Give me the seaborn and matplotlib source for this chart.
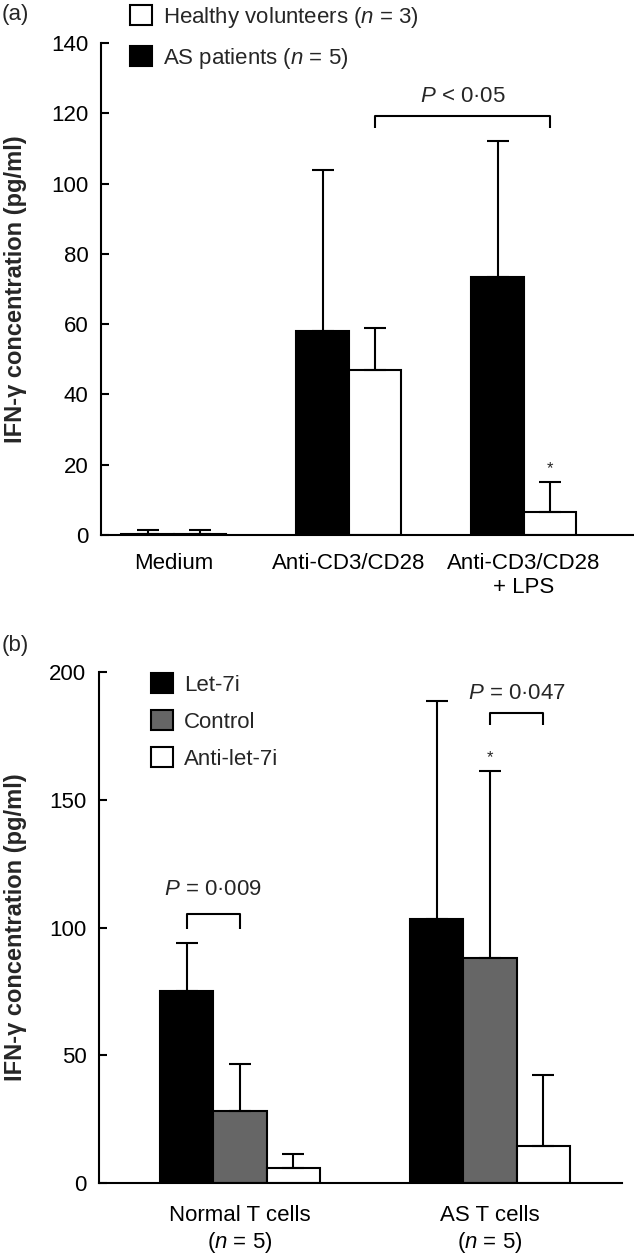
import numpy as np
import pandas as pd
import seaborn as sns
import matplotlib
matplotlib.use("Agg")
import matplotlib.pyplot as plt
from matplotlib.patches import Patch

# ---------------- data ----------------
cond_a = ["Medium", "Anti-CD3/CD28", "Anti-CD3/CD28\n+ LPS"]
groups_a = ["AS patients", "Healthy volunteers"]
legend_labels_a = ["Healthy volunteers ($n$ = 3)", "AS patients ($n$ = 5)"]
as_mean = [0.4, 58.0, 73.5]
as_sd = [0.9, 46.0, 38.5]
hv_mean = [0.4, 47.0, 6.5]
hv_sd = [0.9, 12.0, 8.5]
yticks_a = [0, 20, 40, 60, 80, 100, 120, 140]

cells_b = ["Normal T cells\n($n$ = 5)", "AS T cells\n($n$ = 5)"]
treat_b = ["Let-7i", "Control", "Anti-let-7i"]
let7i_mean = [75.3, 103.3]
let7i_sd = [18.7, 85.5]
control_mean = [28.2, 88.2]
control_sd = [18.2, 73.2]
anti_mean = [6.0, 14.5]
anti_sd = [5.3, 27.8]
yticks_b = [0, 50, 100, 150, 200]

ylabel = "IFN-\u03b3 concentration (pg/ml)"

# ---------------- style ----------------
sns.set_theme(style="white")
plt.rcParams["font.family"] = ["Liberation Sans", "DejaVu Sans"]
plt.rcParams["mathtext.fontset"] = "custom"
plt.rcParams["mathtext.it"] = "Liberation Sans:italic"
plt.rcParams["mathtext.rm"] = "Liberation Sans"
plt.rcParams["mathtext.bf"] = "Liberation Sans:bold"

FS = 16
LW = 1.5
colors_a = {"AS patients": "black", "Healthy volunteers": "white"}
colors_b = {"Let-7i": "black", "Control": "#666666", "Anti-let-7i": "white"}

W, H = 634, 1256
fig = plt.figure(figsize=(W / 100, H / 100), dpi=100)


def rect(l, r, t, b):
    return [l / W, 1 - b / H, (r - l) / W, (b - t) / H]


ax_a = fig.add_axes(rect(101, 634, 43, 535))
ax_b = fig.add_axes(rect(99, 622, 672, 1183))

df_a = pd.DataFrame({
    "cond": cond_a * 2,
    "group": [groups_a[0]] * 3 + [groups_a[1]] * 3,
    "mean": as_mean + hv_mean,
    "sd": as_sd + hv_sd,
})
df_b = pd.DataFrame({
    "cell": cells_b * 3,
    "treat": [treat_b[0]] * 2 + [treat_b[1]] * 2 + [treat_b[2]] * 2,
    "mean": let7i_mean + control_mean + anti_mean,
    "sd": let7i_sd + control_sd + anti_sd,
})


def draw(ax, df, x, hue, order, hue_order, palette, width):
    sns.barplot(data=df, x=x, y="mean", hue=hue, order=order, hue_order=hue_order,
                palette=palette, errorbar=None, width=width, edgecolor="black",
                linewidth=LW, legend=False, saturation=1, ax=ax)
    centers = {}
    for cont, h in zip(ax.containers, hue_order):
        sub = df[df[hue] == h].set_index(x)
        for bar, cat in zip(cont, order):
            cx = bar.get_x() + bar.get_width() / 2
            top = bar.get_height()
            sd = sub.loc[cat, "sd"]
            ax.errorbar(cx, top, yerr=[[0], [sd]], fmt="none", ecolor="black",
                        elinewidth=LW, capsize=8, capthick=LW, zorder=1)
            centers[(cat, h)] = (cx, top + sd)
    return centers


cen_a = draw(ax_a, df_a, "cond", "group", cond_a, groups_a, colors_a, 0.6)
cen_b = draw(ax_b, df_b, "cell", "treat", cells_b, treat_b, colors_b, 0.64)

for ax in (ax_a, ax_b):
    sns.despine(ax=ax)
    for s in ("left", "bottom"):
        ax.spines[s].set_linewidth(LW)
        ax.spines[s].set_color("black")
    ax.set_xlabel("")
    ax.tick_params(axis="y", direction="in", length=6, width=LW, labelsize=FS,
                   pad=9, left=True, colors="black")
    ax.tick_params(axis="x", length=0, labelsize=FS, colors="black")
    ax.set_ylabel(ylabel, fontsize=17, fontweight="bold")

ax_a.set_ylim(0, 140)
ax_a.set_yticks(yticks_a)
ax_a.set_xlim(-0.417, 2.63)
ax_a.tick_params(axis="x", pad=13)
ax_a.yaxis.set_label_coords(-0.138, 0.5)

ax_b.set_ylim(0, 200)
ax_b.set_yticks(yticks_b)
ax_b.set_xlim(-0.564, 1.528)
ax_b.tick_params(axis="x", pad=16)
ax_b.yaxis.set_label_coords(-0.137, 0.5)


def bracket(ax, x1, x2, ylo, yhi, label, ytext):
    ax.plot([x1, x1, x2, x2], [ylo, yhi, yhi, ylo], color="black", lw=LW,
            solid_capstyle="butt", clip_on=False)
    ax.text((x1 + x2) / 2, ytext, label, ha="center", va="center", fontsize=FS)


# panel (a) annotations
x1 = cen_a[(cond_a[1], groups_a[1])][0]
x2 = cen_a[(cond_a[2], groups_a[1])][0]
bracket(ax_a, x1, x2, 115.8, 119.2, "$P$ < 0\u00b705", 124.9)
xs, ys = cen_a[(cond_a[2], groups_a[1])]
ax_a.text(xs, ys + 4, "*", ha="center", va="center", fontsize=12)

# panel (b) annotations
x1 = cen_b[(cells_b[0], treat_b[0])][0]
x2 = cen_b[(cells_b[0], treat_b[1])][0]
bracket(ax_b, x1, x2, 99.4, 105.2, "$P$ = 0\u00b7009", 115)
x1 = cen_b[(cells_b[1], treat_b[1])][0]
x2 = cen_b[(cells_b[1], treat_b[2])][0]
bracket(ax_b, x1, x2, 179.3, 184.0, "$P$ = 0\u00b7047", 191.4)
xs, ys = cen_b[(cells_b[1], treat_b[1])]
ax_b.text(xs, ys + 5, "*", ha="center", va="center", fontsize=12)

# legends
handles_a = [Patch(facecolor=colors_a[groups_a[1]], edgecolor="black", linewidth=LW),
             Patch(facecolor=colors_a[groups_a[0]], edgecolor="black", linewidth=LW)]
fig.legend(handles_a, legend_labels_a, loc="upper left",
           bbox_to_anchor=(130 / W, 1 - 5 / H), frameon=False, fontsize=FS,
           handlelength=1.0, handleheight=1.0, handletextpad=0.5,
           labelspacing=0.7, borderpad=0, borderaxespad=0)

handles_b = [Patch(facecolor=colors_b[t], edgecolor="black", linewidth=LW) for t in treat_b]
fig.legend(handles_b, treat_b, loc="upper left",
           bbox_to_anchor=(151 / W, 1 - 673 / H), frameon=False, fontsize=FS,
           handlelength=1.0, handleheight=1.0, handletextpad=0.5,
           labelspacing=0.65, borderpad=0, borderaxespad=0)

fig.text(2 / W, 1 - 4 / H, "(a)", ha="left", va="top", fontsize=FS)
fig.text(2 / W, 1 - 635 / H, "(b)", ha="left", va="top", fontsize=FS)

fig.savefig("out.png", dpi=100)
